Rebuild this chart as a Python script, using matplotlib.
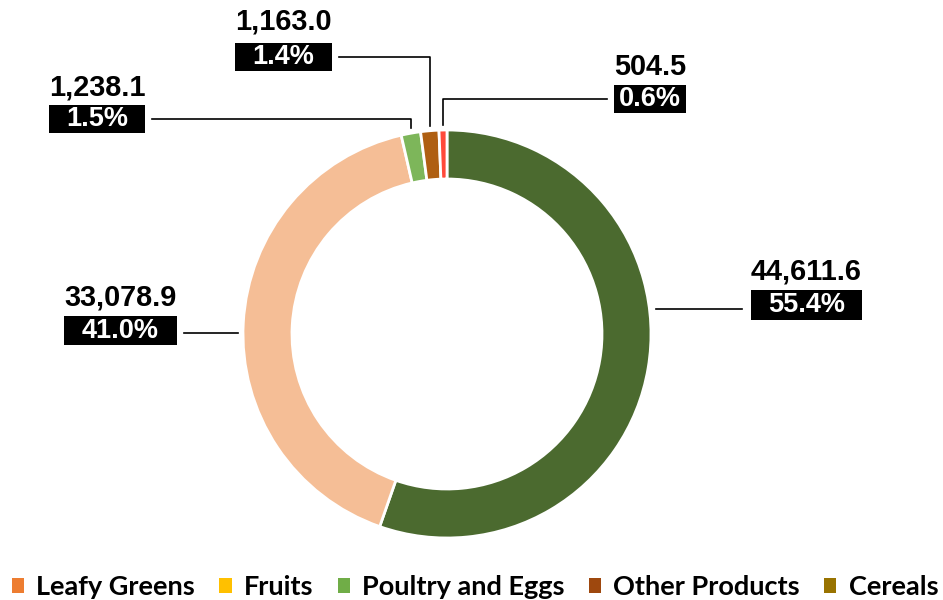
"""Donut chart of category totals with boxed percentage labels."""

import numpy as np
import matplotlib
matplotlib.use("Agg")
import matplotlib.pyplot as plt
from matplotlib.patches import Patch, Rectangle

# slice values (clockwise from 12 o'clock)
values = [44611.6, 33078.9, 1238.1, 1163.0, 504.5]
slice_colors = ["#4B6A2F", "#F5BE96", "#7DB65A", "#AF5F12", "#FF4A3A"]

# legend entries
legend_names = ["Leafy Greens", "Fruits", "Poultry and Eggs", "Other Products", "Cereals"]
legend_colors = ["#ED7D31", "#FFC000", "#70AD47", "#9E480E", "#997300"]

# label layout in image pixels: (x centre, value y, box top, box bottom, line y)
label_pos = [
    (806.5, 271, 290, 320, 309),
    (120.5, 298, 316, 345, 333),
    (97.0, 87, 105, 133, 119),
    (283.5, 22, 43, 71, 57),
    (650.0, 67, 85, 113, 99),
]

W, H = 943, 600
CX, CY, R, RING = 447, 334, 204, 49


def Y(y):
    # image row -> data y
    return H - y


fig = plt.figure(figsize=(W / 100, H / 100), dpi=100)
ax = fig.add_axes([0, 0, 1, 1])

wedges, _ = ax.pie(
    values,
    colors=slice_colors,
    startangle=90,
    counterclock=False,
    radius=R,
    center=(CX, Y(CY)),
    wedgeprops=dict(width=RING, edgecolor="white", linewidth=2),
)
ax.set_xlim(0, W)
ax.set_ylim(0, H)
ax.set_aspect("equal")
ax.axis("off")

total = sum(values)
renderer = fig.canvas.get_renderer()

for i, (v, w) in enumerate(zip(values, wedges)):
    lx, vy, btop, bbot, ly = label_pos[i]
    t = ax.text(lx, Y(vy), f"{v:,.1f}", ha="center", va="center",
                fontsize=20.8, fontweight="bold", family="Liberation Sans",
                color="black")
    bw = t.get_window_extent(renderer).width
    ax.add_patch(Rectangle((lx - bw / 2, Y(bbot)), bw, bbot - btop,
                           facecolor="black", edgecolor="none"))
    ax.text(lx, Y((btop + bbot) / 2), f"{v / total * 100:.1f}%", ha="center",
            va="center", fontsize=19.5, fontweight="bold",
            family="Liberation Sans", color="white")

    # leader line: big slices get a straight line, small ones an elbow
    mid = np.deg2rad((w.theta1 + w.theta2) / 2)
    dy = Y(ly) - Y(CY)
    if v / total > 0.1:
        edge_x = np.sqrt(R ** 2 - dy ** 2)
        if lx > CX:
            xs = [lx - bw / 2 - 9, CX + edge_x + 7]
        else:
            xs = [lx + bw / 2 + 7, CX - edge_x - 5]
        ax.plot(xs, [Y(ly), Y(ly)], color="black", lw=1.2)
    else:
        px = CX + R * np.cos(mid)
        py = Y(CY) + R * np.sin(mid) + 5
        x0 = lx - bw / 2 - 7 if lx > px else lx + bw / 2 + 7
        ax.plot([x0, px, px], [Y(ly), Y(ly), py], color="black", lw=1.2)

handles = [Patch(facecolor=c, edgecolor="none") for c in legend_colors]
fig.legend(handles, legend_names, loc="center", ncol=5,
           bbox_to_anchor=(475 / W, 1 - 587 / H), frameon=False,
           prop={"family": "Lato", "size": 19.5, "weight": "bold"},
           handlelength=0.45, handleheight=0.45, handletextpad=0.45,
           columnspacing=0.9, borderaxespad=0, borderpad=0)

fig.savefig("out.png", dpi=100, facecolor="white")
